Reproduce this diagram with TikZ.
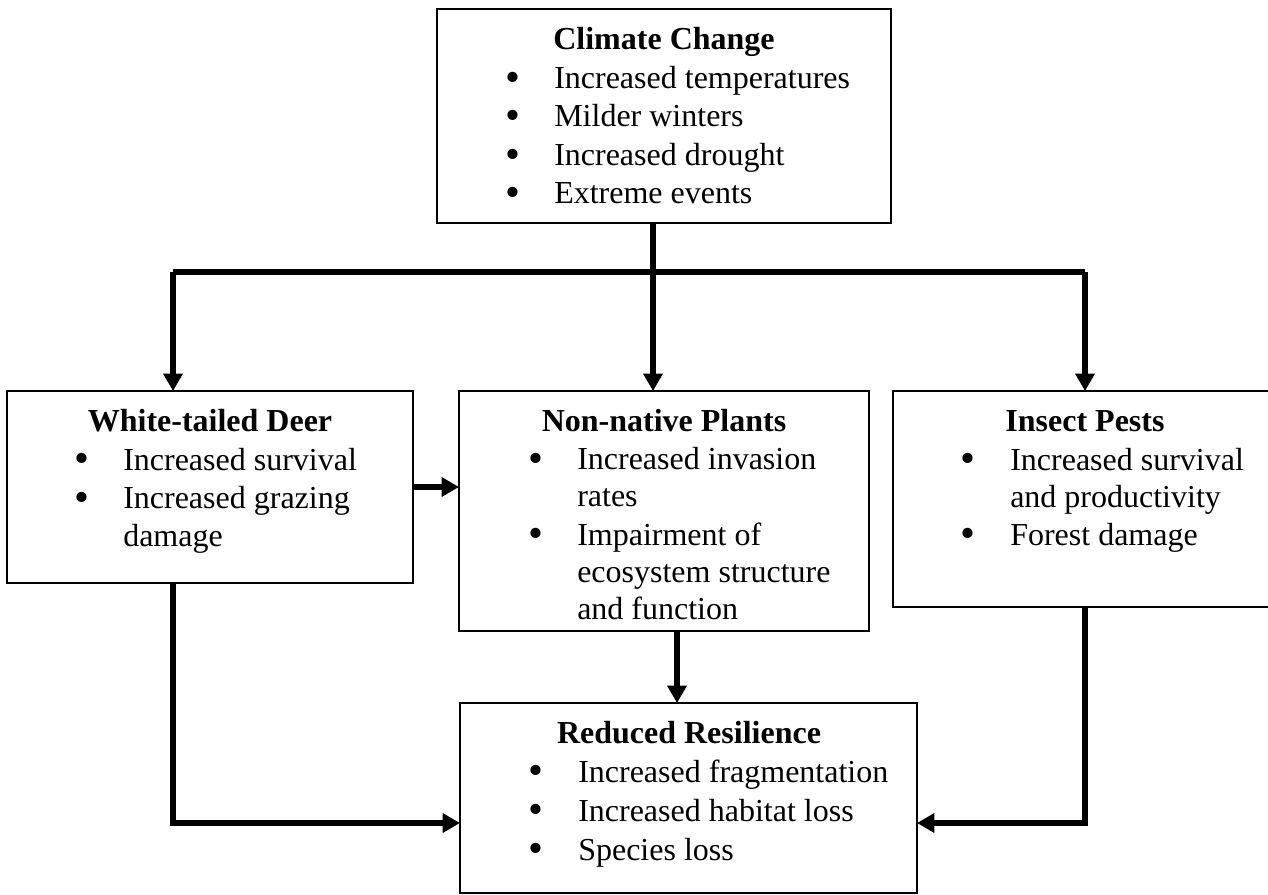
\documentclass[tikz,border=0pt]{standalone}
\usepackage{fontspec}
\setmainfont{Liberation Serif}
\usetikzlibrary{arrows.meta,calc}
\begin{document}
\begin{tikzpicture}[x=0.75pt,y=-0.75pt,
  box/.style={draw,line width=1.1pt,rectangle,inner sep=0pt,outer sep=0pt,anchor=north west},
  conn/.style={line width=4pt,line join=miter},
  arr/.style={conn,-{Triangle[length=13pt,width=14pt]}},
  txt/.style={inner sep=0pt,anchor=base west,font=\fontsize{24}{29}\selectfont},
  head/.style={inner sep=0pt,anchor=base,font=\fontsize{24}{29}\selectfont\bfseries},
  bul/.style={inner sep=0pt,anchor=base,yshift=-2pt,font=\fontsize{32}{32}\selectfont}]
\useasboundingbox (0,0) rectangle (1268,895);

% boxes
\node[box,minimum width=454*0.75pt,minimum height=214*0.75pt] (climate) at (437,9) {};
\node[box,minimum width=406*0.75pt,minimum height=192*0.75pt] (deer) at (7,391) {};
\node[box,minimum width=410*0.75pt,minimum height=240*0.75pt] (nonnative) at (459,391) {};
\node[box,minimum width=384*0.75pt,minimum height=216*0.75pt] (insect) at (893,391) {};
\node[box,minimum width=457*0.75pt,minimum height=190*0.75pt] (reduced) at (460,703) {};

% Climate Change
\node[head] (cch) at (664,50) {Climate Change};
\node[bul] (ccb1) at (513,88.5) {•};
\node[txt] (cct1) at (554,88.5) {Increased temperatures};
\node[bul] (ccb2) at (513,127) {•};
\node[txt] (cct2) at (554,127) {Milder winters};
\node[bul] (ccb3) at (513,165.5) {•};
\node[txt] (cct3) at (554,165.5) {Increased drought};
\node[bul] (ccb4) at (513,204) {•};
\node[txt] (cct4) at (554,204) {Extreme events};

% White-tailed Deer
\node[head] (wdh) at (210,431.5) {White-tailed Deer};
\node[bul] (wdb1) at (82,470) {•};
\node[txt] (wdt1) at (123,470) {Increased survival};
\node[bul] (wdb2) at (82,508.5) {•};
\node[txt] (wdt2) at (123,508.5) {Increased grazing};
\node[txt] (wdt3) at (123,546) {damage};

% Non-native Plants
\node[head] (nph) at (664,431) {Non-native Plants};
\node[bul] (npb1) at (536,469.5) {•};
\node[txt] (npt1) at (577,469.5) {Increased invasion};
\node[txt] (npt2) at (577,506.5) {rates};
\node[bul] (npb2) at (536,545) {•};
\node[txt] (npt3) at (577,545) {Impairment of};
\node[txt] (npt4) at (577,582) {ecosystem structure};
\node[txt] (npt5) at (577,619) {and function};

% Insect Pests
\node[head] (iph) at (1085,431.5) {Insect Pests};
\node[bul] (ipb1) at (968,470) {•};
\node[txt] (ipt1) at (1010,470) {Increased survival};
\node[txt] (ipt2) at (1010,507) {and productivity};
\node[bul] (ipb2) at (968,545) {•};
\node[txt] (ipt3) at (1010,545) {Forest damage};

% Reduced Resilience
\node[head] (rrh) at (689,743.5) {Reduced Resilience};
\node[bul] (rrb1) at (536,782) {•};
\node[txt] (rrt1) at (578,782) {Increased fragmentation};
\node[bul] (rrb2) at (536,821) {•};
\node[txt] (rrt2) at (578,821) {Increased habitat loss};
\node[bul] (rrb3) at (536,860) {•};
\node[txt] (rrt3) at (578,860) {Species loss};

% connector coordinates
\coordinate (jl) at (173,272);
\coordinate (jn) at (653,272);
\coordinate (jr) at (1085,272);
\coordinate (dy) at (0,487);
\coordinate (nb) at (677,0);
\coordinate (ry) at (0,823);

% connectors
\draw[conn] (climate.south -| jn) -- (jn);
\draw[conn] (jl) -- (jr);
\draw[arr] (jl) -- (jl |- deer.north);
\draw[arr] (jn) -- (jn |- nonnative.north);
\draw[arr] (jr) -- (jr |- insect.north);
\draw[arr] (deer.east |- dy) -- (nonnative.west |- dy);
\draw[arr] (nonnative.south -| nb) -- (reduced.north -| nb);
\draw[arr] (deer.south -| jl) -- (jl |- ry) -- (reduced.west |- ry);
\draw[arr] (insect.south -| jr) -- (jr |- ry) -- (reduced.east |- ry);
\end{tikzpicture}
\end{document}
